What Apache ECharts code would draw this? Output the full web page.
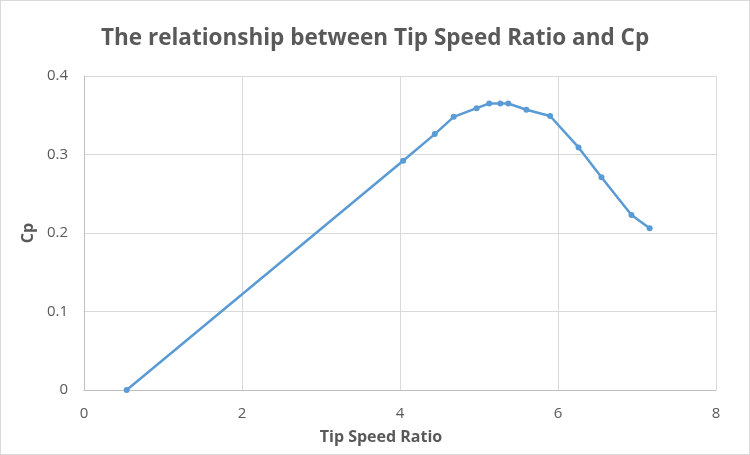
<!DOCTYPE html>
<html>
<head>
<meta charset="utf-8">
<script src="https://cdn.jsdelivr.net/npm/echarts@6/dist/echarts.min.js"></script>
<style>
  html, body { margin: 0; padding: 0; background: #fff; }
  #chart { width: 748px; height: 453px; border: 1px solid #d9d9d9; }
</style>
</head>
<body>
<div id="chart"></div>
<script>
// Tip speed ratio (x) and power coefficient Cp (y)
const tipSpeedRatio = [0.54, 4.04, 4.44, 4.68, 4.97, 5.13, 5.27, 5.37, 5.60, 5.90, 6.26, 6.55, 6.93, 7.16];
const cpValues = [0.0, 0.292, 0.326, 0.348, 0.359, 0.365, 0.365, 0.365, 0.357, 0.349, 0.309, 0.271, 0.223, 0.206];

const fontFamily = 'Open Sans';
const textColor = '#595959';

const chart = echarts.init(document.getElementById('chart'));

chart.setOption({
  backgroundColor: '#fff',
  animation: false,
  title: {
    text: 'The relationship between Tip Speed Ratio and Cp',
    left: 95,
    top: 21,
    textStyle: {
      fontFamily,
      fontSize: 22.5,
      fontWeight: 'bold',
      color: textColor,
    },
  },
  grid: { left: 83, right: 33, top: 75, bottom: 64 },
  xAxis: {
    type: 'value',
    min: 0,
    max: 8,
    interval: 2,
    name: 'Tip Speed Ratio',
    nameLocation: 'middle',
    nameGap: 39,
    nameTextStyle: {
      fontFamily, fontSize: 16, fontWeight: 'bold', color: textColor,
      padding: [0, 38, 0, 0],
    },
    axisLine: { lineStyle: { color: '#bfbfbf', width: 1 } },
    axisTick: { show: false },
    axisLabel: { fontFamily, fontSize: 15, color: textColor, margin: 16 },
    splitLine: { show: true, lineStyle: { color: '#d9d9d9', width: 1 } },
  },
  yAxis: {
    type: 'value',
    min: 0,
    max: 0.4,
    interval: 0.1,
    name: 'Cp',
    nameLocation: 'middle',
    nameGap: 48,
    nameTextStyle: { fontFamily, fontSize: 16, fontWeight: 'bold', color: textColor },
    axisLine: { show: true, lineStyle: { color: '#bfbfbf', width: 1 } },
    axisTick: { show: false },
    axisLabel: { fontFamily, fontSize: 15, color: textColor, margin: 16 },
    splitLine: { show: true, lineStyle: { color: '#d9d9d9', width: 1 } },
  },
  series: [
    {
      type: 'line',
      data: tipSpeedRatio.map((x, i) => [x, cpValues[i]]),
      symbol: 'circle',
      symbolSize: 6,
      lineStyle: { color: '#5b9bd5', width: 2.5 },
      itemStyle: { color: '#5b9bd5' },
    },
  ],
});
</script>
</body>
</html>
